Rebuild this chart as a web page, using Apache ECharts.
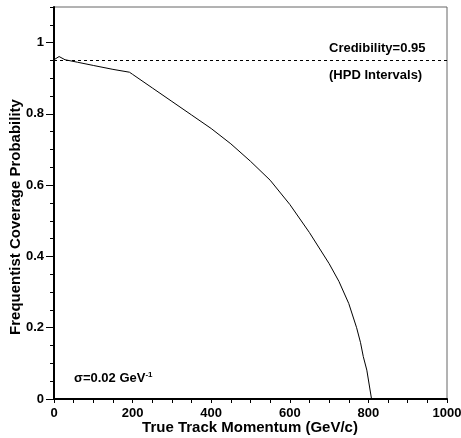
<!DOCTYPE html>
<html><head><meta charset="utf-8">
<script src="https://cdn.jsdelivr.net/npm/echarts@6/dist/echarts.min.js"></script>
<style>html,body{margin:0;padding:0;background:#fff}#c{width:461px;height:438px}</style>
</head><body><div id="c"></div>
<script>
const momentum = [0, 5, 13, 28, 60, 100, 150, 192, 200, 250, 300, 350, 400, 450, 500, 550, 600, 650, 700, 725, 750, 770, 780, 787, 796, 808, 850, 900, 1000];
const coverage = [0.952, 0.956, 0.961, 0.952, 0.945, 0.936, 0.925, 0.917, 0.911, 0.873, 0.835, 0.797, 0.759, 0.716, 0.667, 0.614, 0.546, 0.467, 0.380, 0.330, 0.268, 0.200, 0.158, 0.119, 0.081, 0.0, 0.0, 0.0, 0.0];
const credibility = 0.95;
const xLabelTicks = [0, 200, 400, 600, 800, 1000];
const xMinorTicks = [0,50,100,150,200,250,300,350,400,450,500,550,600,650,700,750,800,850,900,950,1000];
const yLabelTicks = [0, 0.2, 0.4, 0.6, 0.8, 1];
const yMinorTicks = [0,0.05,0.1,0.15,0.2,0.25,0.3,0.35,0.4,0.45,0.5,0.55,0.6,0.65,0.7,0.75,0.8,0.85,0.9,0.95,1.0,1.05,1.1];

const FONT = 'Liberation Sans';
const chart = echarts.init(document.getElementById('c'), null, {renderer: 'canvas'});
const fmtY = v => (Math.abs(v) < 1e-9 ? '0' : (Math.abs(v - 1) < 1e-9 ? '1' : String(+v.toFixed(1))));
chart.setOption({
  animation: false,
  grid: {left: 54, right: 14, top: 7, bottom: 39, containLabel: false, outerBoundsMode: 'none', show: true, borderColor: '#666', borderWidth: 1, backgroundColor: 'transparent'},
  xAxis: [
    {type: 'value', min: 0, max: 1000, position: 'bottom',
     axisLine: {show: true, lineStyle: {color: '#000', width: 2}},
     axisTick: {show: true, customValues: xMinorTicks, length: 4, lineStyle: {color: '#000', width: 1}},
     axisLabel: {show: true, customValues: xLabelTicks, formatter: v => String(v), margin: 8, color: '#000', fontFamily: FONT, fontWeight: 'bold', fontSize: 13},
     splitLine: {show: false}}
  ],
  yAxis: [
    {type: 'value', min: 0, max: 1.1, position: 'left',
     axisLine: {show: true, lineStyle: {color: '#000', width: 2}},
     axisTick: {show: true, customValues: yMinorTicks, length: 4, lineStyle: {color: '#000', width: 1}},
     axisLabel: {show: false}, splitLine: {show: false}},
    {type: 'value', min: 0, max: 1.1, position: 'left', offset: 0,
     axisLine: {show: false},
     axisTick: {show: true, customValues: yLabelTicks, length: 8, lineStyle: {color: '#000', width: 1}},
     axisLabel: {show: true, customValues: yLabelTicks, formatter: fmtY, margin: 10, color: '#000', fontFamily: FONT, fontWeight: 'bold', fontSize: 13},
     splitLine: {show: false}}
  ],
  series: [
    {type: 'line', data: momentum.map((m, i) => [m, coverage[i]]), showSymbol: false, symbol: 'none',
     lineStyle: {color: '#000', width: 1}, z: 3,
     markLine: {silent: true, symbol: 'none', label: {show: false},
       lineStyle: {color: '#000', width: 1, type: [3, 3]},
       data: [{yAxis: credibility}]}}
  ],
  graphic: [
    {type: 'text', x: 250, y: 428,
     style: {text: 'True Track Momentum (GeV/c)', fill: '#000', font: 'bold 15px "' + FONT + '"', textAlign: 'center', textVerticalAlign: 'middle'}},
    {type: 'text', rotation: Math.PI/2, x: 16, y: 217,
     style: {text: 'Frequentist Coverage Probability', fill: '#000', font: 'bold 15px "' + FONT + '"', textAlign: 'center', textVerticalAlign: 'middle'}},
    {type: 'text', x: 329, y: 48, style: {text: 'Credibility=0.95', fill: '#000', font: 'bold 13px "' + FONT + '"', textVerticalAlign: 'middle'}},
    {type: 'text', x: 329, y: 75, style: {text: '(HPD Intervals)', fill: '#000', font: 'bold 13px "' + FONT + '"', textVerticalAlign: 'middle'}},
    {type: 'text', x: 74, y: 378, style: {
      rich: {n: {font: 'bold 13px "' + FONT + '"', fill: '#000'}, s: {font: 'bold 8px "' + FONT + '"', fill: '#000', verticalAlign: 'top', padding: [0,0,6,0]}},
      text: '{n|σ=0.02 GeV}{s|-1}', textVerticalAlign: 'middle'}}
  ]
});
</script></body></html>
